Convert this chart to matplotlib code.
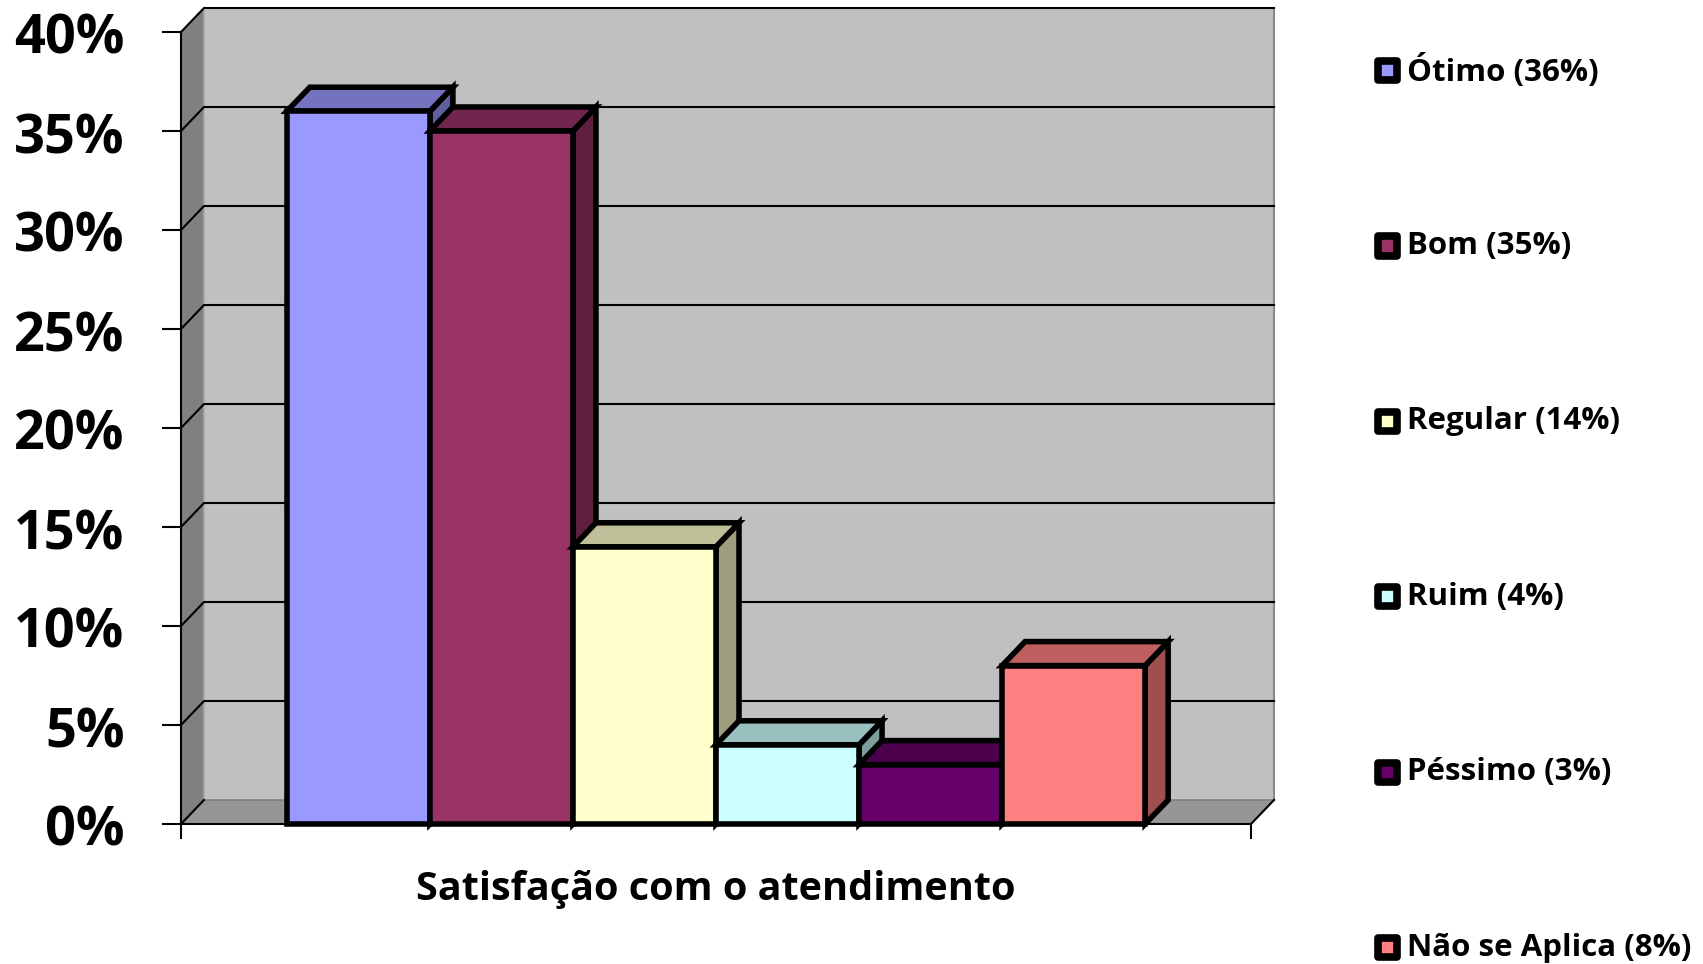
import matplotlib
matplotlib.use("Agg")
import matplotlib.pyplot as plt
from matplotlib.patches import Polygon, Rectangle
from matplotlib import font_manager
import matplotlib.colors as mcolors
import matplotlib.transforms as mtransforms

# Survey results: satisfaction with service
categories = ["Ótimo", "Bom", "Regular", "Ruim", "Péssimo", "Não se Aplica"]
values = [36, 35, 14, 4, 3, 8]
colors = ["#9999FF", "#993366", "#FFFFCC", "#CCFFFF", "#660066", "#FF8080"]
yticks = [0, 5, 10, 15, 20, 25, 30, 35, 40]
xlabel = "Satisfação com o atendimento"


def pick_bold_family(candidates):
    for name in candidates:
        for f in font_manager.fontManager.ttflist:
            if f.name == name and isinstance(f.weight, int) and f.weight >= 600:
                return name
            if f.name == name and f.weight in ("bold", "heavy", "black", "semibold", "demibold"):
                return name
    return "DejaVu Sans"


FONT = pick_bold_family(["Open Sans", "Noto Sans", "Lato", "Roboto", "Inter", "Liberation Sans"])

W, H = 1703, 964
fig = plt.figure(figsize=(W / 100, H / 100), dpi=100)

# plot frame (front plane) in pixels
left_px, right_px, bottom_px, top_px = 181, 1251, 824, 32
ax = fig.add_axes([left_px / W, 1 - bottom_px / H,
                   (right_px - left_px) / W, (bottom_px - top_px) / H])

n = len(values)
gap = 0.74
x0, x1 = -0.5 - gap, n - 0.5 + gap
y0, y1 = yticks[0], yticks[-1]
ax.set_xlim(x0, x1)
ax.set_ylim(y0, y1)

# depth of the 3D box in data units
dx = 23 / 143
dy = 24 / ((bottom_px - top_px) / (y1 - y0))


def shade(c, f):
    r, g, b = mcolors.to_rgb(c)
    return (r * f, g * f, b * f)


def poly(pts, fc, ec="none", lw=0, z=1):
    p = Polygon(pts, closed=True, facecolor=fc, edgecolor=ec, linewidth=lw,
                joinstyle="miter", clip_on=False, zorder=z)
    ax.add_patch(p)
    return p


# walls and floor
poly([(x0 + dx, y0 + dy), (x1 + dx, y0 + dy), (x1 + dx, y1 + dy), (x0 + dx, y1 + dy)], "#C0C0C0", z=1)
poly([(x0, y0), (x0 + dx, y0 + dy), (x0 + dx, y1 + dy), (x0, y1)], "#808080", z=1)
poly([(x0, y0), (x1, y0), (x1 + dx, y0 + dy), (x0 + dx, y0 + dy)], "#969696", z=1)

# wall edges
ax.plot([x0 + dx, x0 + dx], [y0 + dy, y1 + dy], color="#A8A8A8", lw=1.2, zorder=2, clip_on=False)
ax.plot([x1 + dx, x1 + dx], [y0 + dy, y1 + dy], color="#8A8A8A", lw=1.5, zorder=2, clip_on=False)
ax.plot([x0 + dx, x1 + dx], [y0 + dy, y0 + dy], color="#808080", lw=1.2, zorder=2, clip_on=False)
ax.plot([x1, x1 + dx], [y0, y0 + dy], color="black", lw=1.5, zorder=2, clip_on=False)

# gridlines running along the side wall and the back wall
for t in yticks:
    if t == y0:
        ax.plot([x0, x0 + dx], [t, t + dy], color="black", lw=1.5, zorder=2, clip_on=False)
    else:
        ax.plot([x0, x0 + dx, x1 + dx], [t, t + dy, t + dy], color="black", lw=1.5,
                zorder=2, clip_on=False)

# 3D columns, drawn left to right
elw = 4.0
for i, (v, c) in enumerate(zip(values, colors)):
    a, b = i - 0.5, i + 0.5
    z = 3 + i
    poly([(b, 0), (b + dx, dy), (b + dx, v + dy), (b, v)], shade(c, 0.62), "black", elw, z)
    poly([(a, v), (b, v), (b + dx, v + dy), (a + dx, v + dy)], shade(c, 0.75), "black", elw, z)
    r = Rectangle((a, 0), 1, v, facecolor=c, edgecolor="black", linewidth=elw,
                  joinstyle="miter", clip_on=False, zorder=z)
    ax.add_patch(r)

# axes lines
for s in ["top", "right"]:
    ax.spines[s].set_visible(False)
for s in ["left", "bottom"]:
    ax.spines[s].set_linewidth(1.5)
    ax.spines[s].set_zorder(2.5)

ax.set_yticks(yticks)
ax.set_yticklabels([f"{t}%" for t in yticks], fontsize=39, fontweight="bold", family=FONT)
ax.tick_params(axis="y", length=13.7, width=1.5, pad=27)
shift = mtransforms.ScaledTranslation(0, -1.5 / 100, fig.dpi_scale_trans)
for lab in ax.get_yticklabels():
    lab.set_transform(lab.get_transform() + shift)
ax.set_xticks([x0, x1])
ax.set_xticklabels(["", ""])
ax.tick_params(axis="x", length=10.5, width=1.5)
ax.set_xlabel(xlabel, fontsize=28.5, fontweight="bold", family=FONT, labelpad=19)

# legend on the right
lx, ly, step = 1387.5, 70.6, 175.4
for k, (name, v, c) in enumerate(zip(categories, values, colors)):
    cy = ly + k * step
    fig.add_artist(Rectangle(((lx - 9.5) / W, 1 - (cy + 9.5) / H), 19 / W, 19 / H,
                             facecolor=c, edgecolor="black", linewidth=5.5,
                             joinstyle="round", transform=fig.transFigure))
    fig.text(1407 / W, 1 - cy / H, f"{name} ({v}%)", fontsize=22.5, fontweight="bold",
             family=FONT, va="center", ha="left")

fig.savefig("out.png", dpi=100, facecolor="white")
